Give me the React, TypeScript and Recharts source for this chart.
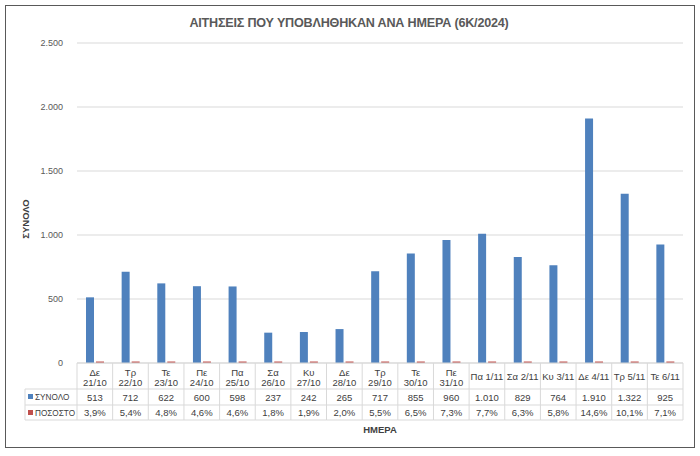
import React from 'react';
import { BarChart, Bar, XAxis, YAxis, CartesianGrid } from 'recharts';

const days = ['Δε', 'Τρ', 'Τε', 'Πε', 'Πα', 'Σα', 'Κυ', 'Δε', 'Τρ', 'Τε', 'Πε', 'Πα', 'Σα', 'Κυ', 'Δε', 'Τρ', 'Τε'];
const dates = ['21/10', '22/10', '23/10', '24/10', '25/10', '26/10', '27/10', '28/10', '29/10', '30/10', '31/10', '1/11', '2/11', '3/11', '4/11', '5/11', '6/11'];
const totals = [513, 712, 622, 600, 598, 237, 242, 265, 717, 855, 960, 1010, 829, 764, 1910, 1322, 925];
const percents = [3.9, 5.4, 4.8, 4.6, 4.6, 1.8, 1.9, 2.0, 5.5, 6.5, 7.3, 7.7, 6.3, 5.8, 14.6, 10.1, 7.1];
const yTicks = [0, 500, 1000, 1500, 2000, 2500];

const BLUE = '#4f81bd';
const RED = '#c0504d';
const GRID = '#d9d9d9';
const TEXT = '#404040';
const FONT = '"Liberation Sans", Arial, sans-serif';

const W = 700;
const H = 456;
const M = { top: 43, right: 17, bottom: 36, left: 0 };
const Y_AXIS_W = 77;
const X_AXIS_H = 57;

const fmtThousands = (v: number) => String(v).replace(/\B(?=(\d{3})+(?!\d))/g, '.');
const fmtPct = (v: number) => v.toFixed(1).replace('.', ',') + '%';

const data = days.map((d, i) => ({
  label: `${d} ${dates[i]}`,
  total: totals[i],
  // Excel plots the share as a fraction on the same axis
  share: percents[i] / 100,
}));

const plotW = W - M.left - M.right - Y_AXIS_W;

function TableTick(props: any) {
  const { x, y, payload } = props;
  const i = payload.index;
  const bw = plotW / data.length;
  const left = x - bw / 2;
  const r1 = y + 26;
  const r2 = r1 + 16;
  const r3 = r2 + 15;
  const twoLine = data[i].label.length > 7;
  const ts = { fontFamily: FONT, fontSize: 9.5, fill: TEXT };
  const ls = { fontFamily: FONT, fontSize: 8.2, fill: TEXT };
  return (
    <g>
      <line x1={left + bw} y1={y} x2={left + bw} y2={r3} stroke={GRID} />
      {i === 0 && <line x1={left} y1={y} x2={left} y2={r3} stroke={GRID} />}
      <line x1={left} y1={r1} x2={left + bw} y2={r1} stroke={GRID} />
      <line x1={left} y1={r2} x2={left + bw} y2={r2} stroke={GRID} />
      <line x1={left} y1={r3} x2={left + bw} y2={r3} stroke={GRID} />
      {twoLine ? (
        <>
          <text x={x} y={y + 13} textAnchor="middle" {...ts}>{days[i]}</text>
          <text x={x} y={y + 23} textAnchor="middle" {...ts}>{dates[i]}</text>
        </>
      ) : (
        <text x={x} y={y + 17} textAnchor="middle" {...ts}>{data[i].label}</text>
      )}
      <text x={x} y={r1 + 11.5} textAnchor="middle" {...ts}>{fmtThousands(totals[i])}</text>
      <text x={x} y={r2 + 11} textAnchor="middle" {...ts}>{fmtPct(percents[i])}</text>
      {i === 0 && (
        <g>
          <line x1={left - 52} y1={r1} x2={left} y2={r1} stroke={GRID} />
          <line x1={left - 52} y1={r2} x2={left} y2={r2} stroke={GRID} />
          <line x1={left - 52} y1={r3} x2={left} y2={r3} stroke={GRID} />
          <line x1={left - 52} y1={r1} x2={left - 52} y2={r3} stroke={GRID} />
          <rect x={left - 49} y={r1 + 5} width={5} height={5} fill={BLUE} />
          <text x={left - 42} y={r1 + 11} {...ls}>ΣΥΝΟΛΟ</text>
          <rect x={left - 49} y={r2 + 5} width={5} height={5} fill={RED} />
          <text x={left - 42} y={r2 + 10.5} {...ls}>ΠΟΣΟΣΤΟ</text>
        </g>
      )}
    </g>
  );
}

const YLabel = () => (
  <text
    x={29}
    y={219}
    transform="rotate(-90, 29, 219)"
    textAnchor="middle"
    fontFamily={FONT}
    fontSize={9.5}
    fontWeight="bold"
    fill={TEXT}
  >
    ΣΥΝΟΛΟ
  </text>
);

export default function App() {
  return (
    <div style={{ position: 'relative', width: W, height: H, background: '#fff' }}>
      <style>{'body{margin:0}'}</style>
      <div
        style={{
          position: 'absolute', left: 5, top: 5, width: 690, height: 443,
          border: '1.5px solid #595959', boxSizing: 'border-box', pointerEvents: 'none',
        }}
      />
      <div
        style={{
          position: 'absolute', left: 0, top: 16, width: 698, textAlign: 'center',
          fontFamily: FONT, fontSize: 12.6, fontWeight: 'bold', color: '#595959',
          letterSpacing: -0.2,
        }}
      >
        ΑΙΤΗΣΕΙΣ ΠΟΥ ΥΠΟΒΛΗΘΗΚΑΝ ΑΝΑ ΗΜΕΡΑ (6Κ/2024)
      </div>
      <BarChart width={W} height={H} data={data} margin={M} barSize={8} barGap={2}>
        <CartesianGrid vertical={false} stroke={GRID} />
        <XAxis
          dataKey="label"
          interval={0}
          height={X_AXIS_H}
          tickSize={0}
          tickMargin={0}
          axisLine={{ stroke: GRID }}
          tickLine={false}
          tick={<TableTick />}
          label={{
            value: 'ΗΜΕΡΑ', position: 'insideBottom', offset: -13,
            style: { fontFamily: FONT, fontSize: 9.5, fontWeight: 'bold', fill: TEXT },
          }}
        />
        <YAxis
          width={Y_AXIS_W}
          domain={[0, 2500]}
          ticks={yTicks}
          tickFormatter={fmtThousands}
          axisLine={false}
          tickLine={false}
          tickMargin={8}
          tick={{ fontFamily: FONT, fontSize: 9, fill: '#595959' }}
          label={{ content: <YLabel /> }}
        />
        <Bar dataKey="total" name="ΣΥΝΟΛΟ" fill={BLUE} isAnimationActive={false} />
        <Bar dataKey="share" name="ΠΟΣΟΣΤΟ" fill={RED} minPointSize={1.5} isAnimationActive={false} />
      </BarChart>
    </div>
  );
}
